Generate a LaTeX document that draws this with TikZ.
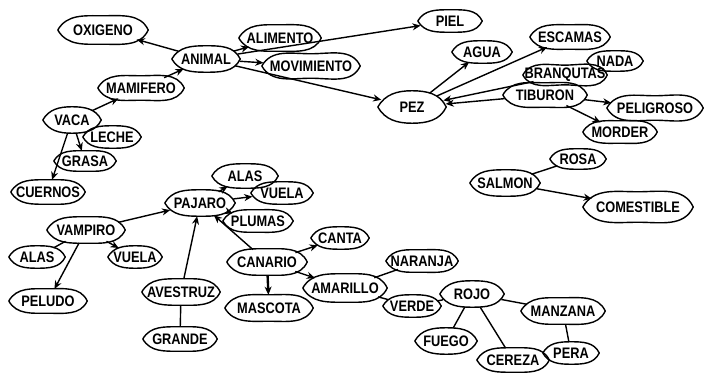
\documentclass[tikz,border=0pt]{standalone}
\usepackage{fontspec}
\newfontfamily\hand{Liberation Sans}[FakeStretch=0.84]
\usetikzlibrary{shapes.geometric,arrows.meta}
% zero-width label box, so the ellipse takes its size from the minimum sizes
\newcommand\lb[1]{\makebox[0pt][c]{#1}}

\begin{document}
\begin{tikzpicture}[x=0.03cm,y=-0.03cm,
  concept/.style 2 args={ellipse, inner sep=0pt,
    minimum width=#1*0.03cm, minimum height=#2*0.03cm,
    font=\hand\bfseries\fontsize{13}{13}\selectfont},
  outline/.style={line width=1.2pt, line join=round},
  arr/.style={line width=1.2pt, -{Stealth[length=7pt,width=6pt]}},
  ln/.style={line width=1.2pt}]
\useasboundingbox (0,0) rectangle (708,375);

% ---- animal / mammal group
\node[concept={90}{28}] (oxi)     at (103,30)  {\lb{OXIGENO}};
\node[concept={68}{26}] (animal)  at (206,59)  {\lb{ANIMAL}};
\node[concept={82}{26}] (alim)    at (280,38)  {\lb{ALIMENTO}};
\node[concept={98}{24}] (movi)    at (311,66)  {\lb{MOVIMIENTO}};
\node[concept={64}{22}] (piel)    at (450,21)  {\lb{PIEL}};
\node[concept={86}{24}] (mami)    at (141,88)  {\lb{MAMIFERO}};
\node[concept={58}{26}] (vaca)    at (72,120)  {\lb{VACA}};
\node[concept={58}{22}] (leche)   at (112,137) {\lb{LECHE}};
\node[concept={62}{20}] (grasa)   at (85,161)  {\lb{GRASA}};
\node[concept={74}{24}] (cuernos) at (48,192)  {\lb{CUERNOS}};

% ---- fish group
\node[concept={68}{32}] (pez)     at (412,107) {\lb{PEZ}};
\node[concept={60}{22}] (agua)    at (482,52)  {\lb{AGUA}};
\node[concept={80}{24}] (escamas) at (570,37)  {\lb{ESCAMAS}};
\node[concept={56}{20}] (nada)    at (615,61)  {\lb{NADA}};
\node[concept={84}{18}] (branq)   at (565,75)  {\lb{BRANQUTAS}};
\node[concept={84}{24}] (tib)     at (545,95)  {\lb{TIBURON}};
\node[concept={96}{24}] (peli)    at (655,108) {\lb{PELIGROSO}};
\node[concept={74}{22}] (morder)  at (620,132) {\lb{MORDER}};
\node[concept={56}{20}] (rosa)    at (578,159) {\lb{ROSA}};
\node[concept={70}{26}] (salmon)  at (505,183) {\lb{SALMON}};
\node[concept={110}{30}] (comest) at (638,207) {\lb{COMESTIBLE}};

% ---- bird group
\node[concept={66}{24}] (alas1)   at (245,176) {\lb{ALAS}};
\node[concept={70}{26}] (pajaro)  at (200,203) {\lb{PAJARO}};
\node[concept={62}{22}] (vuela1)  at (282,193) {\lb{VUELA}};
\node[concept={70}{22}] (plumas)  at (258,221) {\lb{PLUMAS}};
\node[concept={58}{22}] (canta)   at (340,238) {\lb{CANTA}};
\node[concept={80}{26}] (canario) at (267,262) {\lb{CANARIO}};
\node[concept={88}{26}] (mascota) at (269,308) {\lb{MASCOTA}};
\node[concept={78}{26}] (avestruz) at (181,292) {\lb{AVESTRUZ}};
\node[concept={74}{24}] (grande)  at (180,339) {\lb{GRANDE}};
\node[concept={78}{26}] (vamp)    at (86,230)  {\lb{VAMPIRO}};
\node[concept={56}{22}] (alas2)   at (37,257)  {\lb{ALAS}};
\node[concept={54}{22}] (vuela2)  at (135,257) {\lb{VUELA}};
\node[concept={78}{24}] (peludo)  at (48,301)  {\lb{PELUDO}};

% ---- colours
\node[concept={84}{28}] (amar)    at (345,288) {\lb{AMARILLO}};
\node[concept={72}{22}] (naranja) at (422,261) {\lb{NARANJA}};
\node[concept={58}{22}] (verde)   at (412,306) {\lb{VERDE}};
\node[concept={64}{26}] (rojo)    at (472,294) {\lb{ROJO}};
\node[concept={84}{26}] (manz)    at (563,311) {\lb{MANZANA}};
\node[concept={62}{26}] (fuego)   at (446,341) {\lb{FUEGO}};
\node[concept={72}{24}] (cereza)  at (513,360) {\lb{CEREZA}};
\node[concept={56}{22}] (pera)    at (571,353) {\lb{PERA}};

% hand-drawn lens outlines round every concept
\foreach \n in {oxi,animal,alim,movi,piel,mami,vaca,leche,grasa,cuernos,
  pez,agua,escamas,nada,branq,tib,peli,morder,rosa,salmon,comest,
  alas1,pajaro,vuela1,plumas,canta,canario,mascota,avestruz,grande,
  vamp,alas2,vuela2,peludo,amar,naranja,verde,rojo,manz,fuego,cereza,pera}
  \draw[outline] (\n.west) to[out=60,in=180] (\n.north) to[out=0,in=115] (\n.east)
                 to[out=-115,in=0] (\n.south) to[out=180,in=-60] (\n.west);

% ---- links
\draw[arr] (animal) -- (oxi);
\draw[arr] (mami) -- (animal);
\draw[arr] (vaca) -- (mami);
\draw[arr] (animal) -- (alim);
\draw[arr] (animal) -- (movi);
\draw[arr] (animal) -- (piel);
\draw[arr] (animal) -- (pez);
\draw[arr] (vaca) -- (grasa);
\draw[arr] (vaca) -- (cuernos);

\draw[arr] (pez) -- (agua);
\draw[arr] (pez) -- (escamas);
\draw[arr] (branq) -- (pez);
\draw[arr] (tib) -- (pez);
\draw[arr] (tib) -- (peli);
\draw[arr] (tib) -- (morder);
\draw[ln]  (salmon) -- (rosa);
\draw[arr] (salmon) -- (comest);

\draw[arr] (vamp) -- (pajaro);
\draw[arr] (vamp) -- (vuela2);
\draw[ln]  (vamp) -- (alas2);
\draw[arr] (vamp) -- (peludo);
\draw[arr] (pajaro) -- (alas1);
\draw[arr] (pajaro) -- (vuela1);
\draw[arr] (pajaro) -- (plumas);
\draw[arr] (avestruz) -- (pajaro);
\draw[ln]  (avestruz) -- (grande);
\draw[arr] (canario) -- (pajaro);
\draw[arr] (canario) -- (canta);
\draw[arr] (canario) -- (amar);
\draw[arr, line width=2pt] (canario) -- (mascota);

\draw[ln] (amar) -- (naranja);
\draw[ln] (amar) -- (verde);
\draw[ln] (verde) -- (rojo);
\draw[ln] (rojo) -- (fuego);
\draw[ln] (rojo) -- (cereza);
\draw[ln] (rojo) -- (manz);
\draw[ln] (manz) -- (pera);
\end{tikzpicture}
\end{document}
